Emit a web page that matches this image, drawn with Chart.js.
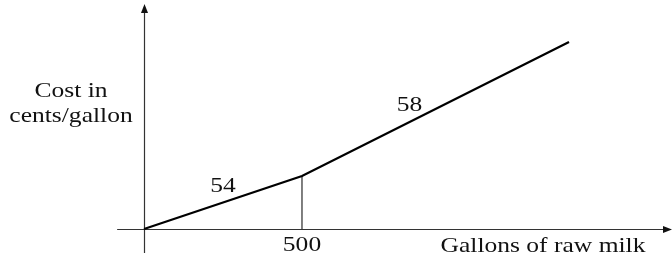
<!DOCTYPE html>
<html>
<head>
<meta charset="utf-8">
<script src="https://cdn.jsdelivr.net/npm/chart.js@4"></script>
<style>
  html, body { margin: 0; padding: 0; background: #fff; }
  #wrap { width: 672px; height: 260px; }
</style>
</head>
<body>
<div id="wrap"><canvas id="graph"></canvas></div>
<script>
// gallons of raw milk and (schematic) total cost
const gallons = [0, 500, 1345];
const cost = [0, 53, 187];
const breakPoint = 500;
const rateLabels = ["54", "58"];
const rateLabelAt = [[250, 44], [840, 125]];
const xAxisTitle = "Gallons of raw milk";
const yAxisTitle = ["Cost in", "cents/gallon"];

const FONT = "22px 'Liberation Serif', 'DejaVu Serif', serif";
const WIDEN = 1.16; // Computer Modern is wider than Times

function arrow(ctx, x, y, dir) {
  ctx.beginPath();
  if (dir === "up") {
    ctx.moveTo(x, y);
    ctx.lineTo(x - 3.5, y + 9);
    ctx.lineTo(x + 3.5, y + 9);
  } else {
    ctx.moveTo(x, y);
    ctx.lineTo(x - 9, y - 3.5);
    ctx.lineTo(x - 9, y + 3.5);
  }
  ctx.closePath();
  ctx.fill();
}

function text(ctx, t, x, y) {
  ctx.save();
  ctx.translate(x, y);
  ctx.scale(WIDEN, 1);
  ctx.fillText(t, 0, 0);
  ctx.restore();
}

const axesPlugin = {
  id: "axes",
  beforeDatasetsDraw(chart) {
    const ctx = chart.ctx;
    const sx = chart.scales.x;
    const sy = chart.scales.y;
    const x0 = Math.round(sx.getPixelForValue(0)) + 0.5;
    const y0 = Math.round(sy.getPixelForValue(0)) + 0.5;
    ctx.save();
    ctx.strokeStyle = "#333";
    ctx.fillStyle = "#111";
    ctx.lineWidth = 1.2;
    // y axis
    ctx.beginPath();
    ctx.moveTo(x0, sy.getPixelForValue(-24));
    ctx.lineTo(x0, 8);
    ctx.stroke();
    arrow(ctx, x0, 4, "up");
    // x axis
    ctx.beginPath();
    ctx.moveTo(sx.getPixelForValue(-85), y0);
    ctx.lineTo(665, y0);
    ctx.stroke();
    arrow(ctx, 672, y0, "right");
    ctx.restore();
  },
  afterDatasetsDraw(chart) {
    const ctx = chart.ctx;
    const sx = chart.scales.x;
    const sy = chart.scales.y;
    ctx.save();
    ctx.fillStyle = "#111";
    ctx.font = FONT;
    ctx.textAlign = "center";
    ctx.textBaseline = "alphabetic";
    // break point tick label
    text(ctx, String(breakPoint), sx.getPixelForValue(breakPoint), 251);
    // rate labels
    rateLabels.forEach((t, i) => {
      text(ctx, t, sx.getPixelForValue(rateLabelAt[i][0]), sy.getPixelForValue(rateLabelAt[i][1]) + 7);
    });
    // axis titles
    text(ctx, xAxisTitle, 543, 252);
    text(ctx, yAxisTitle[0], 71, 97);
    text(ctx, yAxisTitle[1], 71, 122);
    ctx.restore();
  }
};

const lineData = gallons.map((g, i) => ({ x: g, y: cost[i] }));
const breakIdx = gallons.indexOf(breakPoint);
const dropData = [{ x: breakPoint, y: 0 }, { x: breakPoint, y: cost[breakIdx] }];

new Chart(document.getElementById("graph"), {
  type: "scatter",
  data: {
    datasets: [
      {
        data: lineData,
        showLine: true,
        borderColor: "#000",
        borderWidth: 2.2,
        pointRadius: 0,
        tension: 0,
      },
      {
        data: dropData,
        showLine: true,
        borderColor: "#000",
        borderWidth: 1,
        pointRadius: 0,
      },
    ],
  },
  options: {
    responsive: true,
    maintainAspectRatio: false,
    animation: false,
    layout: { padding: 0 },
    plugins: { legend: { display: false }, tooltip: { enabled: false } },
    scales: {
      x: { type: "linear", display: false, min: -455.7, max: 1670.9 },
      y: { type: "linear", display: false, min: -31, max: 229 },
    },
  },
  plugins: [axesPlugin],
});
</script>
</body>
</html>
